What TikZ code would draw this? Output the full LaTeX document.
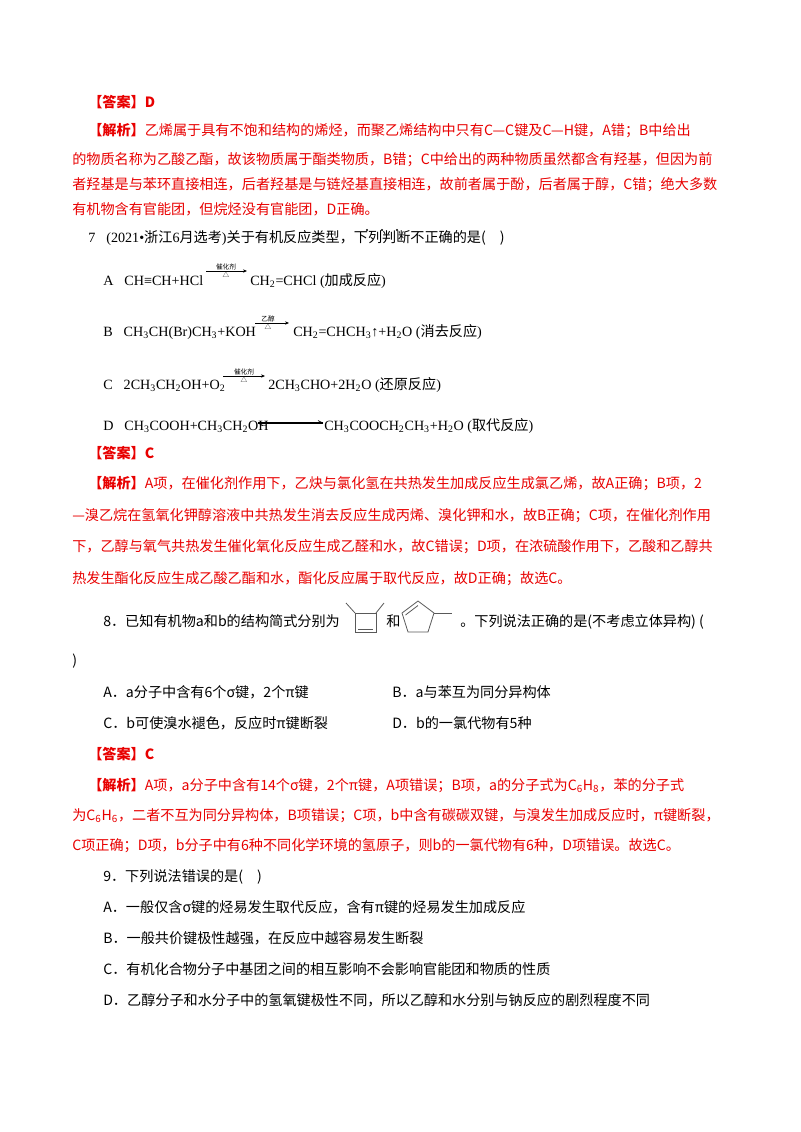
\documentclass[tikz,border=0pt]{standalone}
\usepackage{fontspec}
\usetikzlibrary{arrows.meta}
\setmainfont{Liberation Serif}
\newfontfamily\cjk{Noto Sans CJK SC}
\definecolor{ansred}{RGB}{232,0,0}
\begin{document}
\begin{tikzpicture}[x=0.75pt,y=-0.75pt,
  ln/.style={anchor=base west,inner sep=0pt,font=\fontsize{10.6pt}{12pt}\selectfont\cjk},
  rd/.style={ln,text=ansred},
  sm/.style={inner sep=0pt,font=\fontsize{5pt}{6pt}\selectfont\cjk},
  arr/.style={-{Stealth[length=3pt,width=2.5pt]},line width=0.6pt},
  bond/.style={line width=0.6pt,gray!70!black}]
\useasboundingbox (0,0) rectangle (800,1132);
\node[rd] (l1) at (88,107) {\bfseries 【答案】D};
\node[rd] (l2) at (88,135) {\bfseries 【解析】\mdseries 乙烯属于具有不饱和结构的烯烃，而聚乙烯结构中只有C—C键及C—H键，A错；B中给出};
\node[rd] (l3) at (72,164) {的物质名称为乙酸乙酯，故该物质属于酯类物质，B错；C中给出的两种物质虽然都含有羟基，但因为前};
\node[rd] (l4) at (72,189) {者羟基是与苯环直接相连，后者羟基是与链烃基直接相连，故前者属于酚，后者属于醇，C错；绝大多数};
\node[rd] (l5) at (72,214) {有机物含有官能团，但烷烃没有官能团，D正确。};
\node[ln] (q7) at (88,242) {\rmfamily 7．(2021•\cjk 浙江\rmfamily 6\cjk 月选考\rmfamily)\cjk 关于有机反应类型，下列判断不正确的是(\quad)};
\foreach \dx in {367,382,397} \fill (\dx,230) circle (1.1);
% reactions
\node[ln,font=\fontsize{10.6pt}{12pt}\selectfont] (ra1) at (103,285) {A．CH≡CH+HCl};
\coordinate (aa1) at (206,271); \coordinate (aa2) at (247,271);
\draw[arr] (aa1) -- (aa2);
\node[sm,above] (ca) at (226,270) {催化剂};
\node[sm,below] (da) at (226,272) {△};
\node[ln,font=\fontsize{10.6pt}{12pt}\selectfont] (ra2) at (250,285) {CH\textsubscript{2}=CHCl (\cjk 加成反应\rmfamily)};

\node[ln,font=\fontsize{10.6pt}{12pt}\selectfont] (rb1) at (103,336) {B．CH\textsubscript{3}CH(Br)CH\textsubscript{3}+KOH};
\coordinate (ab1) at (255,323); \coordinate (ab2) at (289,323);
\draw[arr,line width=0.4pt] (ab1) -- (ab2);
\node[sm,above] (cb) at (268,322) {乙醇};
\node[sm,below] (db) at (268,324) {△};
\node[ln,font=\fontsize{10.6pt}{12pt}\selectfont] (rb2) at (293,336) {CH\textsubscript{2}=CHCH\textsubscript{3}↑+H\textsubscript{2}O (\cjk 消去反应\rmfamily)};

\node[ln,font=\fontsize{10.6pt}{12pt}\selectfont] (rc1) at (103,389) {C．2CH\textsubscript{3}CH\textsubscript{2}OH+O\textsubscript{2}};
\coordinate (ac1) at (223,376); \coordinate (ac2) at (265,376);
\draw[arr] (ac1) -- (ac2);
\node[sm,above] (cc) at (244,375) {催化剂};
\node[sm,below] (dc) at (244,377) {△};
\node[ln,font=\fontsize{10.6pt}{12pt}\selectfont] (rc2) at (268,389) {2CH\textsubscript{3}CHO+2H\textsubscript{2}O (\cjk 还原反应\rmfamily)};

\node[ln,font=\fontsize{10.6pt}{12pt}\selectfont] (rd1) at (103,430) {D．CH\textsubscript{3}COOH+CH\textsubscript{3}CH\textsubscript{2}OH};
\coordinate (ad1) at (258,423); \coordinate (ad2) at (323,423);
\draw[line width=0.9pt] (ad1) -- (ad2);
\draw[line width=0.5pt] (ad2) -- ++(-5,-2.5);
\draw[line width=0.5pt] (ad1) -- ++(5,2.5);
\node[ln,font=\fontsize{10.6pt}{12pt}\selectfont] (rd2) at (324,430) {CH\textsubscript{3}COOCH\textsubscript{2}CH\textsubscript{3}+H\textsubscript{2}O (\cjk 取代反应\rmfamily)};

\node[rd] (l11) at (88,458) {\bfseries 【答案】C};
\node[rd] (l12) at (88,488) {\bfseries 【解析】\mdseries A项，在催化剂作用下，乙炔与氯化氢在共热发生加成反应生成氯乙烯，故A正确；B项，2};
\node[rd] (l13) at (72,520) {—溴乙烷在氢氧化钾醇溶液中共热发生消去反应生成丙烯、溴化钾和水，故B正确；C项，在催化剂作用};
\node[rd] (l14) at (72,551) {下，乙醇与氧气共热发生催化氧化反应生成乙醛和水，故C错误；D项，在浓硫酸作用下，乙酸和乙醇共};
\node[rd] (l15) at (72,583) {热发生酯化反应生成乙酸乙酯和水，酯化反应属于取代反应，故D正确；故选C。};

\node[ln] (q8a) at (103,626) {8．已知有机物a和b的结构简式分别为};
\node[ln] (q8b) at (386,626) {和};
\node[ln] (q8c) at (460,626) {。下列说法正确的是(不考虑立体异构) (};
% molecule a
\coordinate (s1) at (355,613); \coordinate (s2) at (376,613);
\coordinate (s3) at (376,632); \coordinate (s4) at (355,632);
\draw[bond] (s1) -- (s2) -- (s3) -- (s4) -- cycle;
\draw[bond] (358,629) -- (373,629);
\draw[bond] (s1) -- (346,603);
\draw[bond] (s2) -- (384,603);
% molecule b
\coordinate (p1) at (418,601); \coordinate (p2) at (434,613);
\coordinate (p3) at (428,632); \coordinate (p4) at (408,632);
\coordinate (p5) at (402,613);
\draw[bond] (p1) -- (p2) -- (p3) -- (p4) -- (p5) -- cycle;
\draw[bond] (405.5,615) -- (418,605.5);
\draw[bond] (p2) -- (452,613);

\node[ln] (q8d) at (72,665) {)};
\node[ln] (o8a) at (103,697) {A．a分子中含有6个σ键，2个π键};
\node[ln] (o8b) at (392,697) {B．a与苯互为同分异构体};
\node[ln] (o8c) at (103,728) {C．b可使溴水褪色，反应时π键断裂};
\node[ln] (o8d) at (392,728) {D．b的一氯代物有5种};

\node[rd] (l20) at (88,759) {\bfseries 【答案】C};
\node[rd] (l21) at (88,790) {\bfseries 【解析】\mdseries A项，a分子中含有14个σ键，2个π键，A项错误；B项，a的分子式为C\textsubscript{6}H\textsubscript{8}，苯的分子式};
\node[rd] (l22) at (72,820) {为C\textsubscript{6}H\textsubscript{6}，二者不互为同分异构体，B项错误；C项，b中含有碳碳双键，与溴发生加成反应时，π键断裂，};
\node[rd] (l23) at (72,850) {C项正确；D项，b分子中有6种不同化学环境的氢原子，则b的一氯代物有6种，D项错误。故选C。};

\node[ln] (q9) at (103,881) {9．下列说法错误的是(\quad)};
\node[ln] (o9a) at (103,912) {A．一般仅含σ键的烃易发生取代反应，含有π键的烃易发生加成反应};
\node[ln] (o9b) at (103,943) {B．一般共价键极性越强，在反应中越容易发生断裂};
\node[ln] (o9c) at (103,974) {C．有机化合物分子中基团之间的相互影响不会影响官能团和物质的性质};
\node[ln] (o9d) at (103,1005) {D．乙醇分子和水分子中的氢氧键极性不同，所以乙醇和水分别与钠反应的剧烈程度不同};
\end{tikzpicture}
\end{document}
